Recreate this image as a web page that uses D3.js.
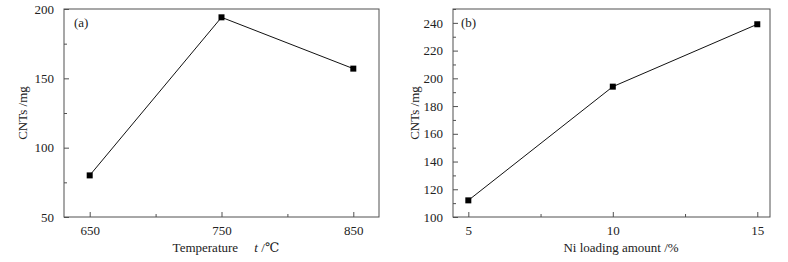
<!DOCTYPE html>
<html>
<head>
<meta charset="utf-8">
<script src="https://cdn.jsdelivr.net/npm/d3@7"></script>
<style>
  body { margin: 0; background: #fff; }
  svg text { font-family: "Liberation Serif", "DejaVu Serif", serif; fill: #222; }
</style>
</head>
<body>
<div id="chart"></div>
<script>
// Data
const tempX = [650, 750, 850];
const tempY = [80, 194, 157];
const niX = [5, 10, 15];
const niY = [112, 194, 239];

const w = 788, h = 262;
const axisColor = '#505050';
const serif = '"Liberation Serif", "DejaVu Serif", serif';

const svg = d3.select('#chart')
  .append('svg')
  .attr('width', w)
  .attr('height', h)
  .attr('font-family', serif);

// Draw one panel
const panel = (opt) => {
  const x = d3.scaleLinear().domain(opt.xDomain).range([opt.left, opt.right]);
  const y = d3.scaleLinear().domain(opt.yDomain).range([opt.bottom, opt.top]);
  const g = svg.append('g');

  // frame
  g.append('rect')
    .attr('x', opt.left).attr('y', opt.top)
    .attr('width', opt.right - opt.left).attr('height', opt.bottom - opt.top)
    .attr('fill', 'none').attr('stroke', axisColor).attr('stroke-width', 1);

  // x axis, ticks pointing inward
  g.append('g')
    .attr('transform', 'translate(0,' + opt.bottom + ')')
    .call(d3.axisBottom(x).tickValues(opt.xTicks).tickSize(-5).tickPadding(9).tickFormat(d3.format('d')));
  g.append('g')
    .attr('transform', 'translate(0,' + opt.bottom + ')')
    .call(d3.axisBottom(x).tickValues(opt.xMinor).tickSize(-3).tickFormat(''));

  // y axis
  g.append('g')
    .attr('transform', 'translate(' + opt.left + ',0)')
    .call(d3.axisLeft(y).tickValues(opt.yTicks).tickSize(-5).tickPadding(10).tickFormat(d3.format('d')));
  g.append('g')
    .attr('transform', 'translate(' + opt.left + ',0)')
    .call(d3.axisLeft(y).tickValues(opt.yMinor).tickSize(-3).tickFormat(''));

  g.selectAll('.domain').remove();
  g.selectAll('g').attr('font-family', serif).attr('font-size', 13);
  g.selectAll('.tick line').attr('stroke', axisColor);
  g.selectAll('.tick text').attr('fill', '#222');

  // line and markers
  const pts = opt.xs.map((d, i) => [d, opt.ys[i]]);
  g.append('path')
    .datum(pts)
    .attr('fill', 'none')
    .attr('stroke', '#111')
    .attr('stroke-width', 1)
    .attr('d', d3.line().x(d => x(d[0])).y(d => y(d[1])));
  g.selectAll('rect.pt')
    .data(pts)
    .enter()
    .append('rect')
    .attr('class', 'pt')
    .attr('x', d => x(d[0]) - 3)
    .attr('y', d => y(d[1]) - 3)
    .attr('width', 6)
    .attr('height', 6)
    .attr('fill', '#000');

  // panel label
  g.append('text')
    .attr('x', opt.left + opt.tagDx)
    .attr('y', opt.top + 18)
    .style('font-size', '13px')
    .text(opt.tag);

  // y title
  g.append('text')
    .attr('transform', 'translate(' + opt.yTitleX + ',' + ((opt.top + opt.bottom) / 2) + ') rotate(-90)')
    .attr('text-anchor', 'middle')
    .style('font-size', '13px')
    .text('CNTs /mg');

  return { g, x, y };
};

const a = panel({
  left: 64, right: 379, top: 9, bottom: 217,
  xDomain: [630.5, 869.5], yDomain: [50, 200],
  xTicks: tempX, xMinor: [700, 800],
  yTicks: [50, 100, 150, 200], yMinor: [75, 125, 175],
  xs: tempX, ys: tempY,
  tag: '(a)', tagDx: 10, yTitleX: 27
});
const xt = a.g.append('text')
  .attr('x', 226)
  .attr('y', 252)
  .attr('text-anchor', 'middle')
  .style('font-size', '13px');
xt.append('tspan').text('Temperature\u00a0\u00a0\u00a0\u00a0\u00a0');
xt.append('tspan').style('font-style', 'italic').text('t');
xt.append('tspan').text(' /\u2103');

const b = panel({
  left: 453, right: 770, top: 9, bottom: 217,
  xDomain: [4.47, 15.44], yDomain: [100, 250],
  xTicks: niX, xMinor: [7.5, 12.5],
  yTicks: [100, 120, 140, 160, 180, 200, 220, 240], yMinor: [110, 130, 150, 170, 190, 210, 230, 250],
  xs: niX, ys: niY,
  tag: '(b)', tagDx: 8, yTitleX: 419
});
b.g.append('text')
  .attr('x', 621)
  .attr('y', 252)
  .attr('text-anchor', 'middle')
  .style('font-size', '13px')
  .text('Ni loading amount /%');
</script>
</body>
</html>
